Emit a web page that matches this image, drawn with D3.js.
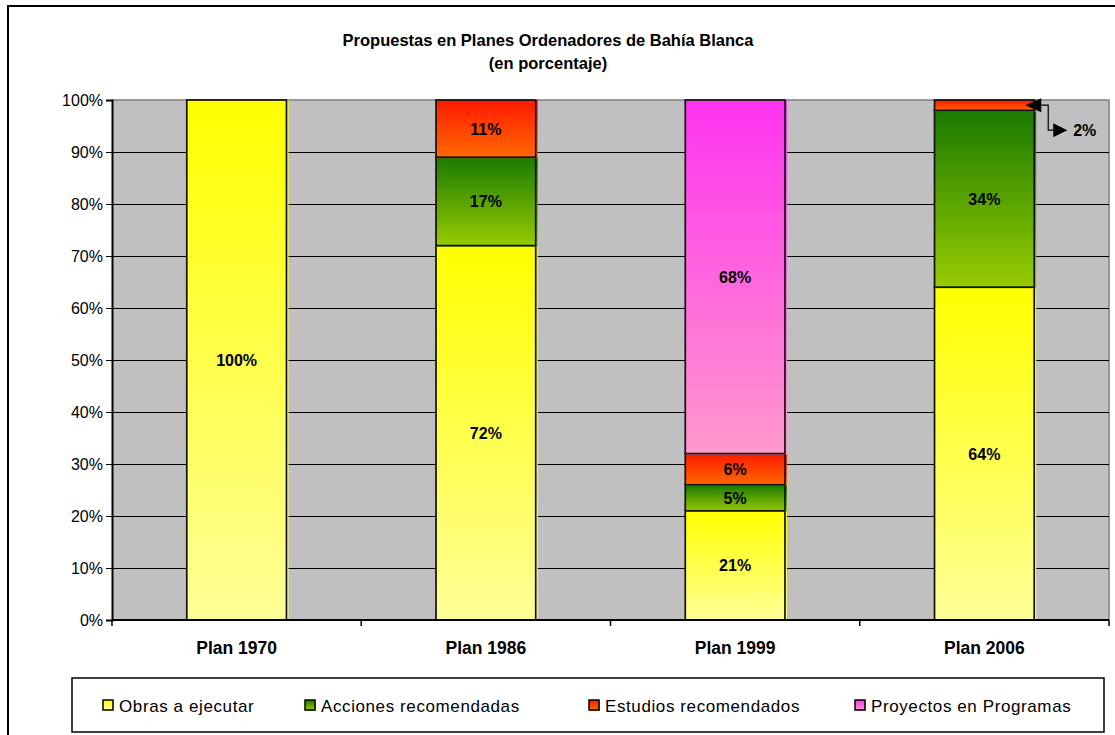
<!DOCTYPE html>
<html>
<head>
<meta charset="utf-8">
<script src="https://cdn.jsdelivr.net/npm/d3@7"></script>
<style>
  body { margin: 0; background: #fff; }
  svg { font-family: "Liberation Sans", Arial, sans-serif; }
</style>
</head>
<body>
<svg id="svg" width="1115" height="735"></svg>
<script>
// data
const plans = ["Plan 1970", "Plan 1986", "Plan 1999", "Plan 2006"]
const series = ["Obras a ejecutar", "Acciones recomendadas", "Estudios recomendados", "Proyectos en Programas"]
const obras = [100, 72, 21, 64]
const acciones = [0, 17, 5, 34]
const estudios = [0, 11, 6, 2]
const proyectos = [0, 0, 68, 0]
const yTicks = [0, 10, 20, 30, 40, 50, 60, 70, 80, 90, 100]

// gradient colours, top -> bottom
const grads = [
    ["#ffff00", "#ffff99"],
    ["#1a7a00", "#99cc00"],
    ["#ff1a00", "#ff6a00"],
    ["#ff33f0", "#ff99cc"]
]

const svg = d3.select("#svg")
const pLeft = 112, pRight = 1109, pTop = 100, pBottom = 620

const x = d3.scaleBand().domain(plans).range([pLeft, pRight]).paddingInner(0.6).paddingOuter(0.3)
const y = d3.scaleLinear().domain([0, 100]).range([pBottom, pTop])

// outer chart frame
svg.append("rect").attr("x", 8).attr("y", 6).attr("width", 1130).attr("height", 760)
    .attr("fill", "#fff").attr("stroke", "#000").attr("stroke-width", 2)

const defs = svg.append("defs")
grads.forEach((g, i) => {
    const lg = defs.append("linearGradient").attr("id", "g" + i)
        .attr("x1", 0).attr("y1", 0).attr("x2", 0).attr("y2", 1)
    lg.append("stop").attr("offset", "0%").attr("stop-color", g[0])
    lg.append("stop").attr("offset", "100%").attr("stop-color", g[1])
})

// title
svg.append("text").attr("x", 548).attr("y", 46).attr("text-anchor", "middle")
    .attr("font-size", 16.5).attr("font-weight", "bold").text("Propuestas en Planes Ordenadores de Bahía Blanca")
svg.append("text").attr("x", 548).attr("y", 69).attr("text-anchor", "middle")
    .attr("font-size", 16.5).attr("font-weight", "bold").text("(en porcentaje)")

// plot area
svg.append("rect").attr("x", pLeft).attr("y", pTop).attr("width", pRight - pLeft).attr("height", pBottom - pTop)
    .attr("fill", "#c0c0c0")
svg.append("path").attr("d", `M${pLeft},${pTop}H${pRight}V${pBottom}`)
    .attr("fill", "none").attr("stroke", "#808080").attr("stroke-width", 1.5)

svg.append("g").selectAll("line").data(yTicks.filter(d => d > 0 && d < 100)).enter().append("line")
    .attr("x1", pLeft).attr("x2", pRight)
    .attr("y1", d => Math.round(y(d)) + 0.5).attr("y2", d => Math.round(y(d)) + 0.5)
    .attr("stroke", "#000")

// stacked bars
const table = plans.map((p, i) => ({ plan: p, s0: obras[i], s1: acciones[i], s2: estudios[i], s3: proyectos[i] }))
const stacked = d3.stack().keys(["s0", "s1", "s2", "s3"])(table)

stacked.forEach((layer, k) => {
    const g = svg.append("g")
    const segs = layer.filter(d => d[1] - d[0] > 0)
    // fill slightly spills right/down like the original rendering
    g.selectAll("rect.fill").data(segs).enter().append("rect")
        .attr("x", d => x(d.data.plan))
        .attr("y", d => y(d[1]))
        .attr("width", x.bandwidth() + 2)
        .attr("height", d => y(d[0]) - y(d[1]) + 1)
        .attr("fill", `url(#g${k})`)
    g.selectAll("rect.edge").data(segs).enter().append("rect")
        .attr("x", d => x(d.data.plan))
        .attr("y", d => y(d[1]))
        .attr("width", x.bandwidth())
        .attr("height", d => y(d[0]) - y(d[1]))
        .attr("fill", "none").attr("stroke", "#111").attr("stroke-width", 1.7)
    g.selectAll("text").data(segs.filter(d => d[1] - d[0] > 3)).enter().append("text")
        .attr("x", d => x(d.data.plan) + x.bandwidth() / 2)
        .attr("y", d => (y(d[0]) + y(d[1])) / 2 + 6)
        .attr("text-anchor", "middle").attr("font-size", 16).attr("font-weight", "bold")
        .text(d => (d[1] - d[0]) + "%")
})

// callout for the small 2% segment
const small = stacked[2][3]
const ax = x(small.data.plan) + x.bandwidth() - 9
const ay = y((small[0] + small[1]) / 2)
svg.append("path")
    .attr("d", `M${ax + 16},${ay}H${ax + 23}V${ay + 25}H${ax + 30}`)
    .attr("fill", "none").attr("stroke", "#000").attr("stroke-width", 1.2)
svg.append("path").attr("d", `M${ax},${ay}L${ax + 16},${ay - 7}L${ax + 16},${ay + 7}Z`).attr("fill", "#000")
svg.append("path").attr("d", `M${ax + 42},${ay + 25}L${ax + 28},${ay + 18}L${ax + 28},${ay + 32}Z`).attr("fill", "#000")
svg.append("text").attr("x", ax + 48).attr("y", ay + 31).attr("font-size", 16).attr("font-weight", "bold")
    .text(small[1] - small[0] + "%")

// axes
const yAxis = d3.axisLeft(y).tickValues(yTicks).tickSize(6).tickFormat(d => d + "%")
svg.append("g").attr("transform", `translate(${pLeft},0)`).call(yAxis)
    .call(g => g.select(".domain").attr("stroke-width", 2))
    .call(g => g.selectAll("text").attr("font-size", 16).attr("font-family", "Liberation Sans, Arial").attr("dx", 0))

const bounds = [pLeft, ...plans.slice(1).map(p => x(p) - x.step() * x.paddingInner() / 2), pRight]
svg.append("line").attr("x1", pLeft).attr("x2", pRight).attr("y1", pBottom).attr("y2", pBottom)
    .attr("stroke", "#000").attr("stroke-width", 2)
svg.append("g").selectAll("line").data(bounds).enter().append("line")
    .attr("x1", d => d).attr("x2", d => d).attr("y1", pBottom).attr("y2", pBottom + 6)
    .attr("stroke", "#000").attr("stroke-width", 1.5)
svg.append("g").selectAll("text").data(plans).enter().append("text")
    .attr("x", d => x(d) + x.bandwidth() / 2).attr("y", 654)
    .attr("text-anchor", "middle").attr("font-size", 17.5).attr("font-weight", "bold")
    .text(d => d)

// legend
svg.append("rect").attr("x", 72).attr("y", 678).attr("width", 1032).attr("height", 54)
    .attr("fill", "#fff").attr("stroke", "#000").attr("stroke-width", 1.5)
const legX = [103, 305, 589, 855]
const leg = svg.append("g").selectAll("g").data(series).enter().append("g")
    .attr("transform", (d, i) => `translate(${legX[i]},700)`)
leg.append("rect").attr("x", 1).attr("y", 1).attr("width", 10).attr("height", 10)
    .attr("fill", (d, i) => grads[i][1])
leg.append("rect").attr("width", 10).attr("height", 10)
    .attr("fill", (d, i) => `url(#g${i})`).attr("stroke", "#000").attr("stroke-width", 1.5)
leg.append("text").attr("x", 16).attr("y", 12).attr("font-size", 17).attr("letter-spacing", 0.6).text(d => d)
</script>
</body>
</html>
